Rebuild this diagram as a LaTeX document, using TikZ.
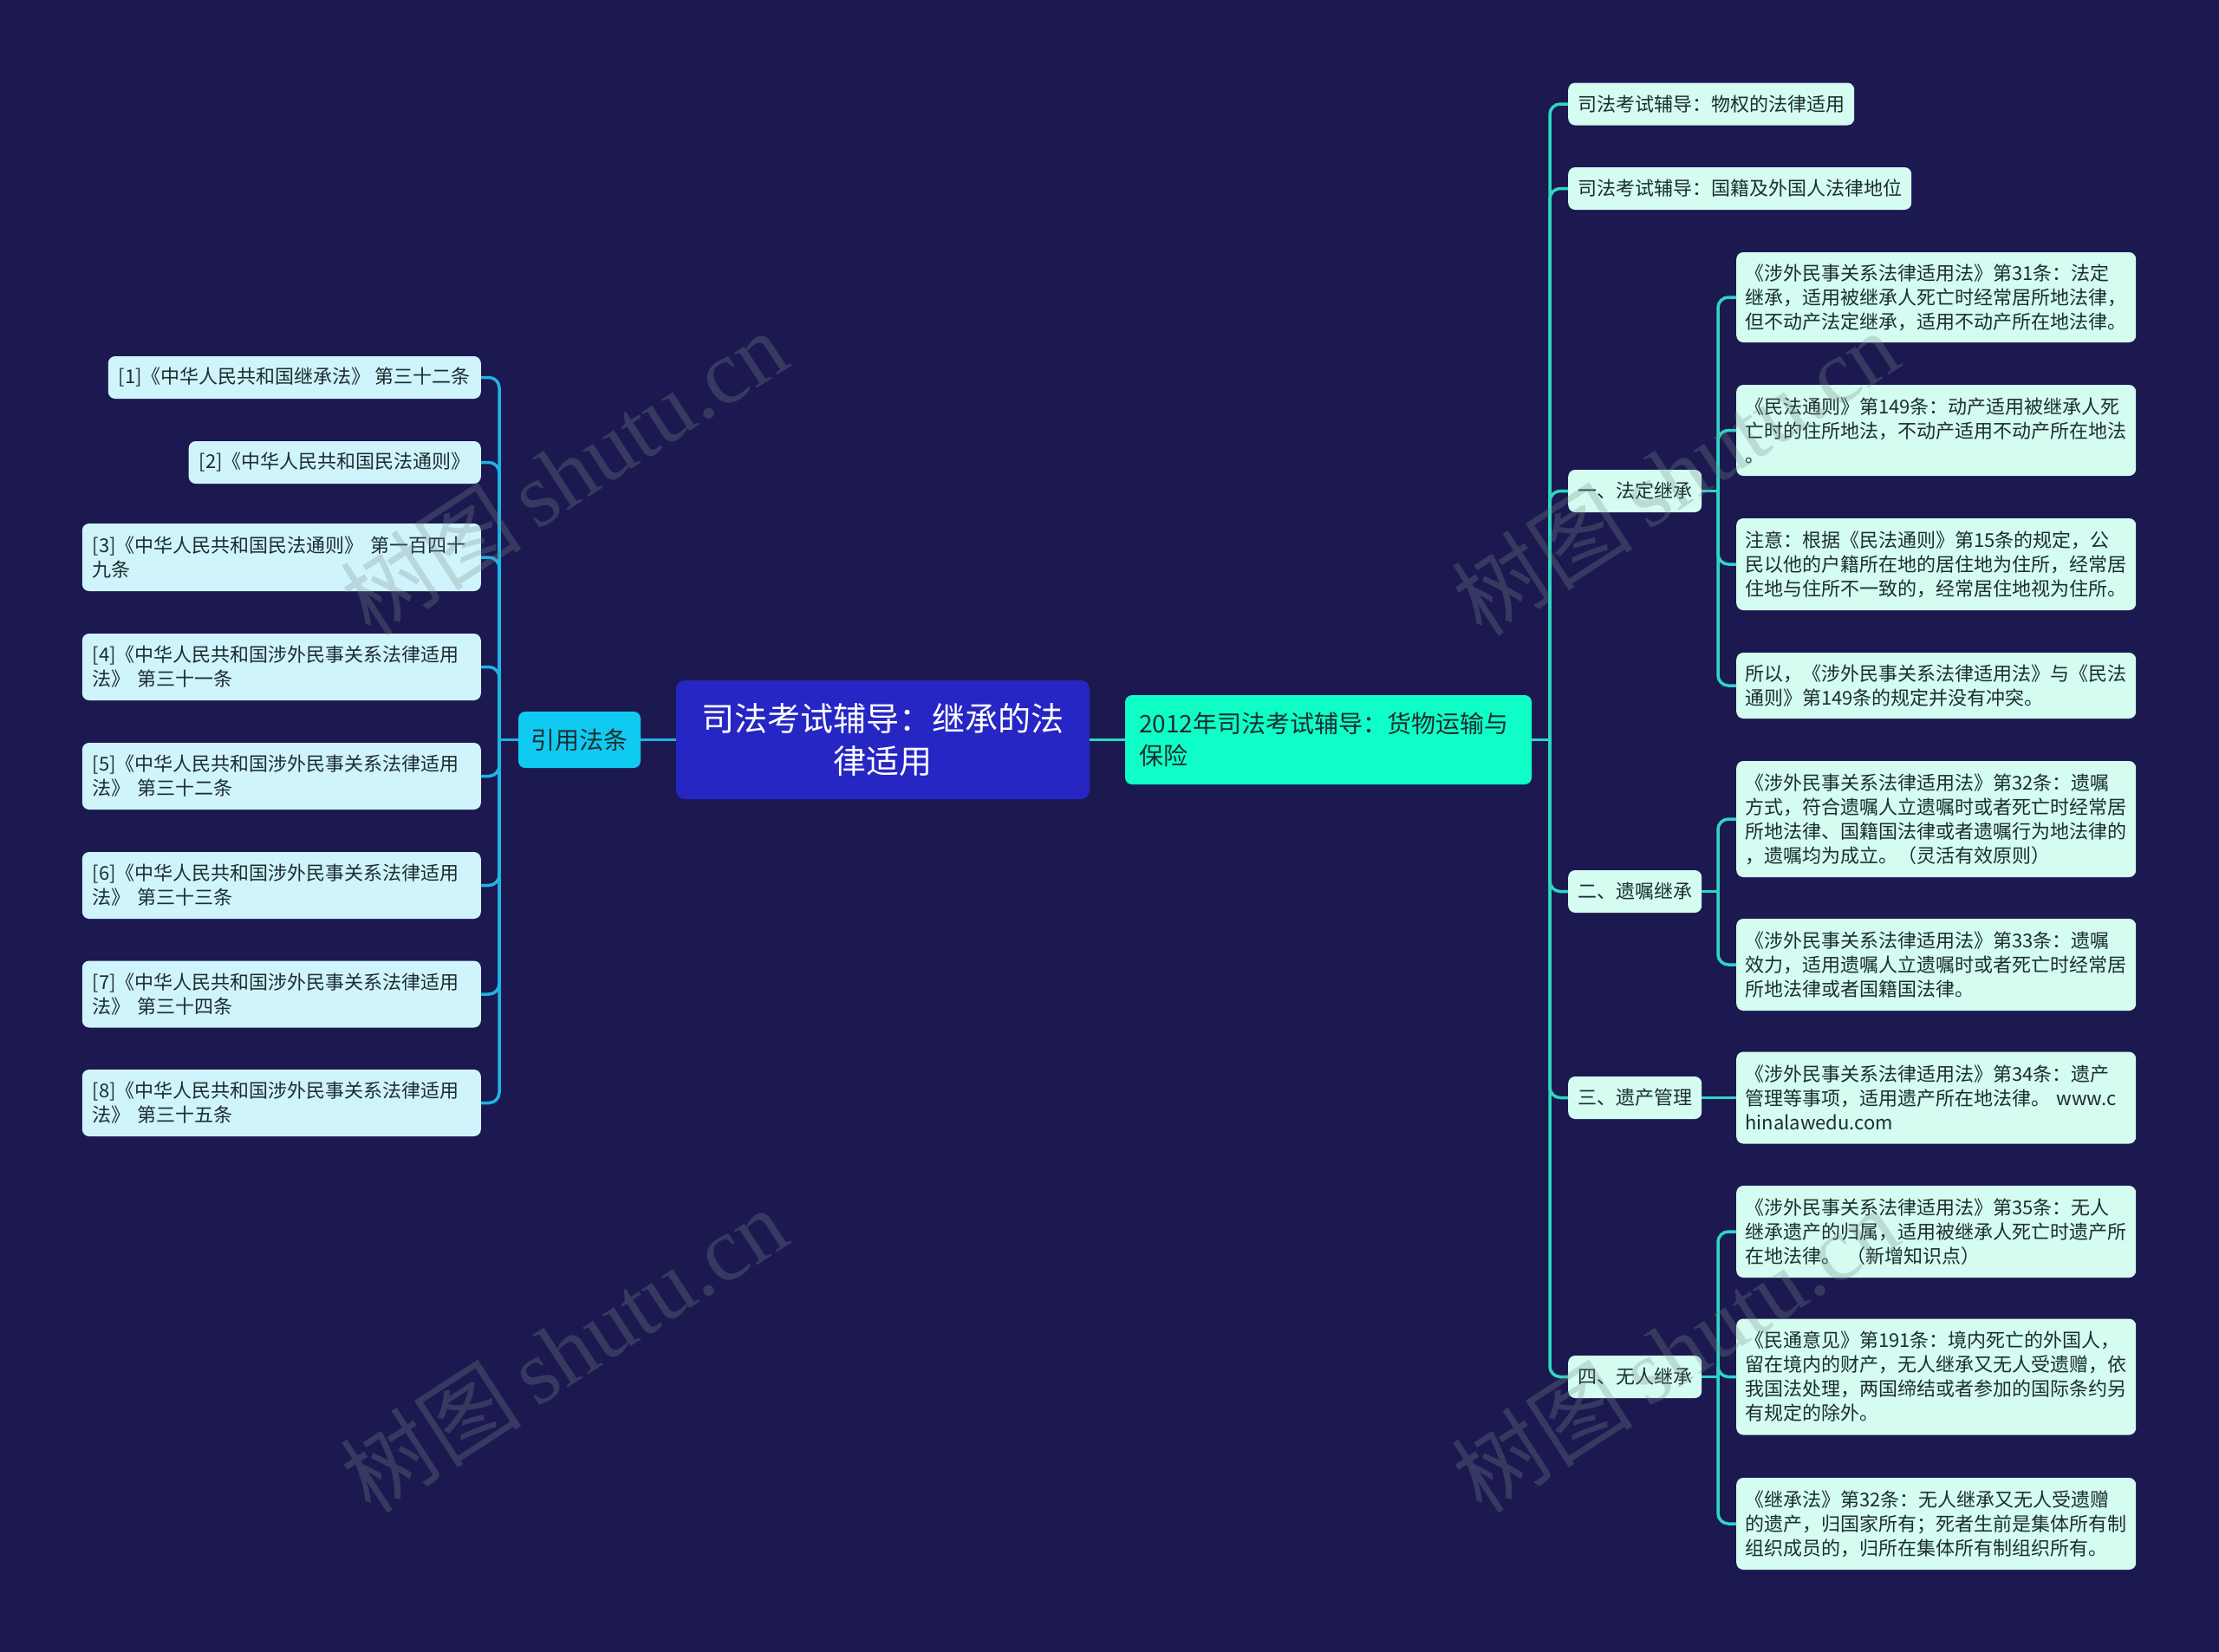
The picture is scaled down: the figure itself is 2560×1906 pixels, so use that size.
\documentclass[tikz,border=0pt]{standalone}
\usepackage{fontspec}
\setmainfont{Noto Sans CJK SC}
\newfontfamily\wmserif{Liberation Serif}
\usetikzlibrary{calc}
\definecolor{bgc}{RGB}{27,25,80}
\definecolor{centerfill}{RGB}{38,38,196}
\definecolor{citefill}{RGB}{16,202,242}
\definecolor{mainfill}{RGB}{15,253,198}
\definecolor{lleaf}{RGB}{208,244,252}
\definecolor{rleaf}{RGB}{212,252,240}
\definecolor{lconnc}{RGB}{30,180,230}
\definecolor{rconnc}{RGB}{45,215,195}
\definecolor{txtc}{RGB}{28,46,48}
\definecolor{wmc}{RGB}{125,140,140}
\tikzset{
  boxbase/.style={rounded corners=8pt, text=txtc, inner ysep=0pt, font=\fontsize{22}{28}\selectfont},
  lleafbox/.style={boxbase, fill=lleaf, inner xsep=12pt, minimum height=49pt},
  lleafwide/.style={lleafbox, align=left, text width=436pt, minimum height=77pt},
  rtopbox/.style={boxbase, fill=rleaf, inner xsep=11pt, minimum height=49pt},
  rsubbox/.style={boxbase, fill=rleaf, inner xsep=11pt, minimum height=49pt, minimum width=152pt},
  rleafbox/.style={boxbase, fill=rleaf, inner xsep=10pt, align=left, text width=441pt},
  lconn/.style={draw=lconnc, line width=3.5pt},
  rconn/.style={draw=rconnc, line width=3.5pt},
  wmark/.style={text=wmc, opacity=0.28, rotate=33, font=\fontsize{105}{110}\selectfont}
}
\begin{document}
\begin{tikzpicture}[x=1pt,y=-1pt]
\useasboundingbox (0,0) rectangle (2560,1906);
\fill[bgc] (0,0) rectangle (2560,1906);

% center and main branches
\node[fill=centerfill, rounded corners=10pt, text=white, minimum width=477pt, minimum height=137pt,
  align=center, text width=445pt, inner xsep=16pt, font=\fontsize{38}{49}\selectfont]
  (center) at (1018.5,853.5) {司法考试辅导：继承的法\\律适用};
\node[fill=citefill, rounded corners=8pt, text=txtc, minimum width=141pt, minimum height=65pt,
  inner xsep=10pt, font=\fontsize{28}{34}\selectfont] (cite) at (668.5,853.5) {引用法条};
\node[fill=mainfill, rounded corners=8pt, text=txtc, minimum width=469pt, minimum height=103pt,
  align=left, text width=437pt, inner xsep=16pt, font=\fontsize{28}{37}\selectfont]
  (main) at (1532.5,853.5) {2012年司法考试辅导：货物运输与\\保险};

% left leaves
\node[lleafbox, anchor=east] (L1) at (555,435.5) {[1]《中华人民共和国继承法》 第三十二条};
\node[lleafbox, anchor=east] (L2) at (555,533.5) {[2]《中华人民共和国民法通则》};
\node[lleafwide, anchor=east, minimum height=78pt] (L3) at (555,643) {[3]《中华人民共和国民法通则》 第一百四十\\九条};
\node[lleafwide, anchor=east] (L4) at (555,769.5) {[4]《中华人民共和国涉外民事关系法律适用\\法》 第三十一条};
\node[lleafwide, anchor=east] (L5) at (555,895.5) {[5]《中华人民共和国涉外民事关系法律适用\\法》 第三十二条};
\node[lleafwide, anchor=east] (L6) at (555,1021.5) {[6]《中华人民共和国涉外民事关系法律适用\\法》 第三十三条};
\node[lleafwide, anchor=east] (L7) at (555,1147) {[7]《中华人民共和国涉外民事关系法律适用\\法》 第三十四条};
\node[lleafwide, anchor=east] (L8) at (555,1272.5) {[8]《中华人民共和国涉外民事关系法律适用\\法》 第三十五条};

% right first level
\node[rtopbox, anchor=west] (R1) at (1809,120) {司法考试辅导：物权的法律适用};
\node[rtopbox, anchor=west] (R2) at (1809,217.5) {司法考试辅导：国籍及外国人法律地位};
\node[rsubbox, anchor=west] (R3) at (1809,566.5) {一、法定继承};
\node[rsubbox, anchor=west] (R4) at (1809,1028.5) {二、遗嘱继承};
\node[rsubbox, anchor=west] (R5) at (1809,1266.5) {三、遗产管理};
\node[rsubbox, anchor=west] (R6) at (1809,1588.5) {四、无人继承};

% right leaves
\node[rleafbox, anchor=west, minimum height=104pt] (F1) at (2003,343) {《涉外民事关系法律适用法》第31条：法定\\继承，适用被继承人死亡时经常居所地法律，\\但不动产法定继承，适用不动产所在地法律。};
\node[rleafbox, anchor=west, minimum height=105pt] (F2) at (2003,496.5) {《民法通则》第149条：动产适用被继承人死\\亡时的住所地法，不动产适用不动产所在地法\\。};
\node[rleafbox, anchor=west, minimum height=106pt] (F3) at (2003,651) {注意：根据《民法通则》第15条的规定，公\\民以他的户籍所在地的居住地为住所，经常居\\住地与住所不一致的，经常居住地视为住所。};
\node[rleafbox, anchor=west, minimum height=76pt] (F4) at (2003,791) {所以，《涉外民事关系法律适用法》与《民法\\通则》第149条的规定并没有冲突。};
\node[rleafbox, anchor=west, minimum height=134pt] (G1) at (2003,945) {《涉外民事关系法律适用法》第32条：遗嘱\\方式，符合遗嘱人立遗嘱时或者死亡时经常居\\所地法律、国籍国法律或者遗嘱行为地法律的\\，遗嘱均为成立。（灵活有效原则）};
\node[rleafbox, anchor=west, minimum height=106pt] (G2) at (2003,1113) {《涉外民事关系法律适用法》第33条：遗嘱\\效力，适用遗嘱人立遗嘱时或者死亡时经常居\\所地法律或者国籍国法律。};
\node[rleafbox, anchor=west, minimum height=106pt] (H1) at (2003,1266.5) {《涉外民事关系法律适用法》第34条：遗产\\管理等事项，适用遗产所在地法律。 www.c\\hinalawedu.com};
\node[rleafbox, anchor=west, minimum height=106pt] (I1) at (2003,1421) {《涉外民事关系法律适用法》第35条：无人\\继承遗产的归属，适用被继承人死亡时遗产所\\在地法律。 （新增知识点）};
\node[rleafbox, anchor=west, minimum height=134pt] (I2) at (2003,1588.5) {《民通意见》第191条：境内死亡的外国人，\\留在境内的财产，无人继承又无人受遗赠，依\\我国法处理，两国缔结或者参加的国际条约另\\有规定的除外。};
\node[rleafbox, anchor=west, minimum height=106pt] (I3) at (2003,1758) {《继承法》第32条：无人继承又无人受遗赠\\的遗产，归国家所有；死者生前是集体所有制\\组织成员的，归所在集体所有制组织所有。};

% spine coordinates
\coordinate (lsp) at (576,853.5);
\coordinate (rsp) at (1788,853.5);
\coordinate (s3) at (1982,566.5);
\coordinate (s4) at (1982,1028.5);
\coordinate (s6) at (1982,1588.5);

% connectors
\draw[lconn] (center.west) -- (cite.east);
\draw[rconn] (center.east) -- (main.west);
\draw[lconn] (cite.west) -- (lsp);
\foreach \n in {L1,L2,L3,L4,L5,L6,L7,L8}
  \draw[lconn, rounded corners=12pt] (lsp) |- (\n.east);
\draw[rconn] (main.east) -- (rsp);
\foreach \n in {R1,R2,R3,R4,R5,R6}
  \draw[rconn, rounded corners=12pt] (rsp) |- (\n.west);
\draw[rconn] (R3.east) -- (s3);
\foreach \n in {F1,F2,F3,F4}
  \draw[rconn, rounded corners=12pt] (s3) |- (\n.west);
\draw[rconn] (R4.east) -- (s4);
\foreach \n in {G1,G2}
  \draw[rconn, rounded corners=12pt] (s4) |- (\n.west);
\draw[rconn] (R5.east) -- (H1.west);
\draw[rconn] (R6.east) -- (s6);
\foreach \n in {I1,I2,I3}
  \draw[rconn, rounded corners=12pt] (s6) |- (\n.west);

% watermarks
\node[wmark] (wm1) at (650,545) {树图\,{\wmserif shutu.cn}};
\node[wmark] (wm2) at (650,1557) {树图\,{\wmserif shutu.cn}};
\node[wmark] (wm3) at (1932,545) {树图\,{\wmserif shutu.cn}};
\node[wmark] (wm4) at (1932,1557) {树图\,{\wmserif shutu.cn}};
\end{tikzpicture}
\end{document}
